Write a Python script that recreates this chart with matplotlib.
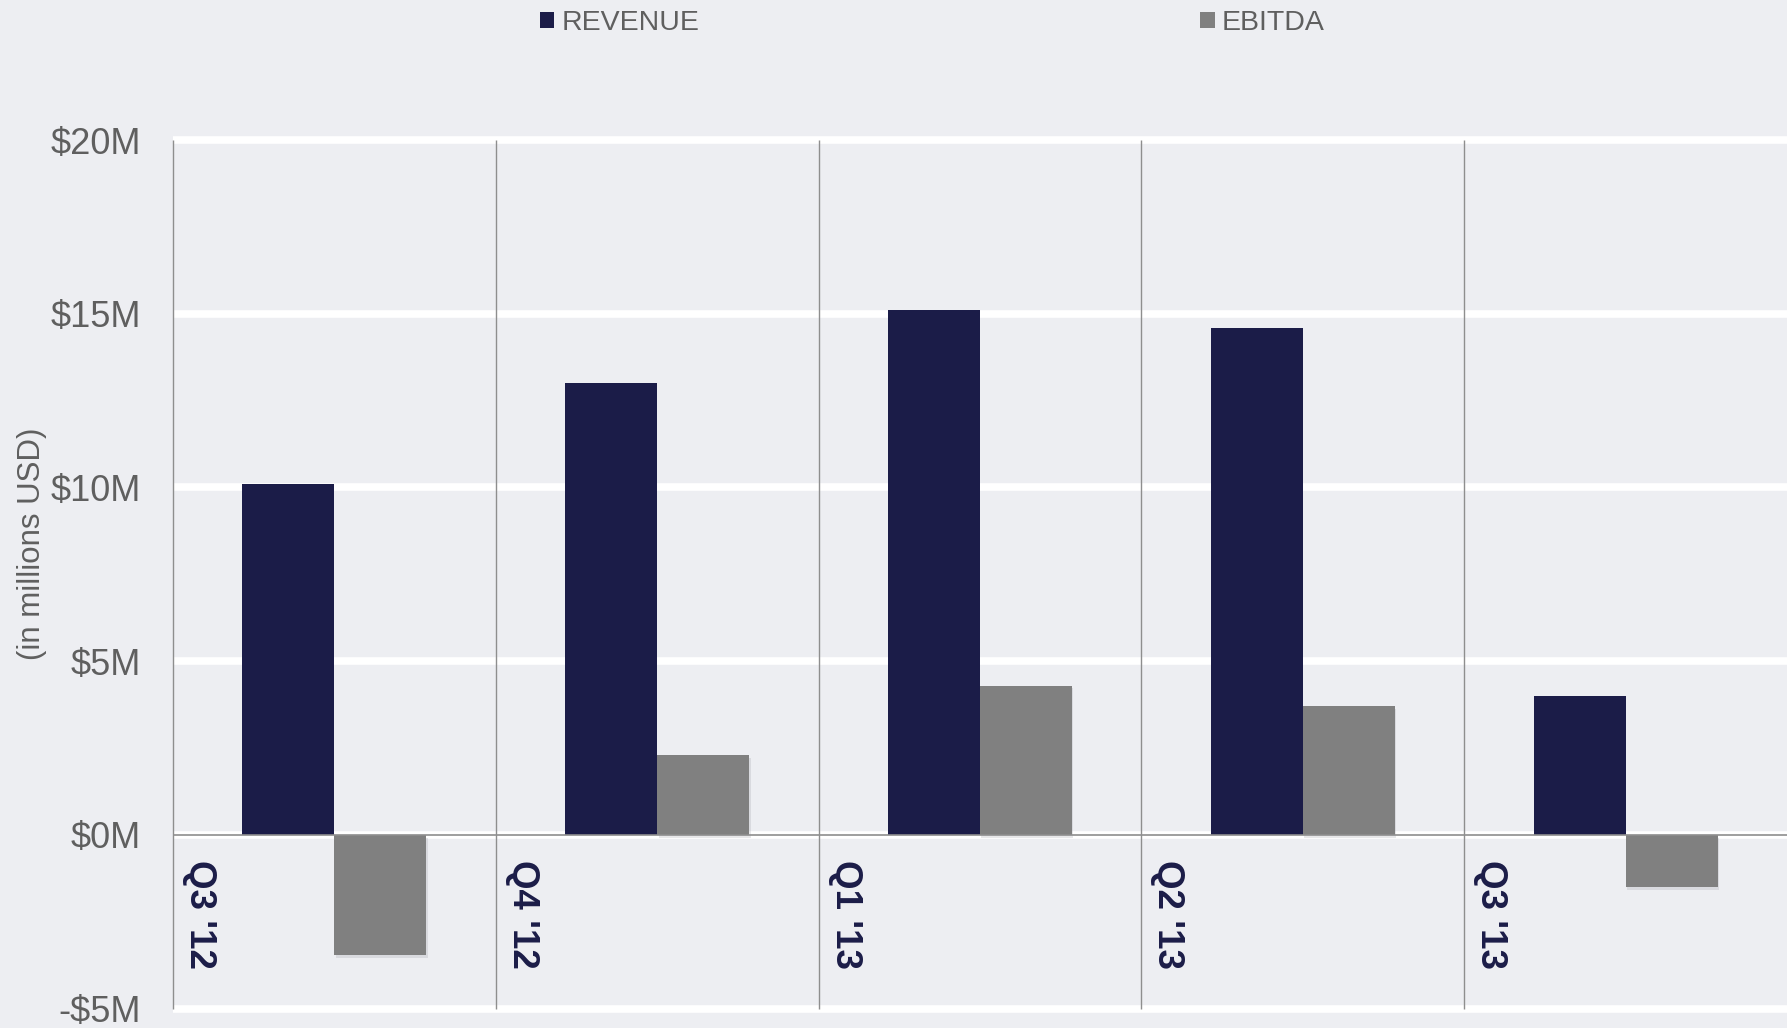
import matplotlib
matplotlib.use('Agg')
import matplotlib.pyplot as plt
import matplotlib.patheffects as pe
from matplotlib.patches import Patch
from matplotlib.transforms import offset_copy

# data (millions USD)
quarters = ["Q3 '12", "Q4 '12", "Q1 '13", "Q2 '13", "Q3 '13"]
revenue = [10.1, 13.0, 15.1, 14.6, 4.0]
ebitda = [-3.45, 2.3, 4.3, 3.7, -1.5]
y_ticks = [-5, 0, 5, 10, 15, 20]
y_tick_labels = ['-$5M', '$0M', '$5M', '$10M', '$15M', '$20M']

navy = '#1B1C48'
grey_bar = '#808080'
bg = '#EDEEF2'
line_grey = '#8E8E8E'
text_grey = '#5F5F5F'

plt.rcParams['font.family'] = ['Liberation Sans', 'DejaVu Sans']

fig = plt.figure(figsize=(17.87, 10.28), dpi=100, facecolor=bg)
ax = fig.add_axes([173 / 1787, 0.0138, 1 - 173 / 1787, 0.855])
ax.set_facecolor(bg)

x = list(range(len(quarters)))
w = 0.285
shadow = [pe.SimplePatchShadow(offset=(1, -2), shadow_rgbFace='#a0a0aa', alpha=0.25), pe.Normal()]
ax.bar([i - w for i in x], revenue, width=w, align='edge', color=navy, zorder=3)
ax.bar(x, ebitda, width=w, align='edge', color=grey_bar, zorder=3, path_effects=shadow)

ax.set_xlim(-0.5, len(quarters) - 0.5)
ax.set_ylim(-5.15, 20.15)

# white horizontal grid
for t in y_ticks:
    ax.axhline(t, color='white', lw=5.5, zorder=1)
# category separators
ax.vlines([i - 0.5 for i in x], -5, 20, color=line_grey, lw=1.0, zorder=2, clip_on=False)
ax.axhline(0, color=line_grey, lw=1.2, zorder=4)

for s in ax.spines.values():
    s.set_visible(False)
ax.set_xticks([])
ax.set_yticks(y_ticks)
ax.set_yticklabels(y_tick_labels, fontsize=26, color=text_grey)
ax.tick_params(axis='y', length=0, pad=23)

# quarter labels under the zero line
trans = offset_copy(ax.transData, fig=fig, x=9, y=-25, units='dots')
for i, q in zip(x, quarters):
    ax.text(i - 0.5, 0, q, rotation=270, ha='left', va='top', fontsize=26.5,
            fontweight='bold', color=navy, transform=trans, zorder=5)

fig.text(32 / 1787, 1 - 544 / 1028, '(in millions USD)', rotation=90, ha='center', va='center',
         fontsize=22.5, color=text_grey)

handles = [Patch(facecolor=navy, label='REVENUE'), Patch(facecolor=grey_bar, label='EBITDA')]
fig.legend(handles=handles, ncol=2, loc='center left', bbox_to_anchor=(540 / 1787, 1 - 23 / 1028),
           frameon=False, fontsize=20.5, labelcolor=text_grey, borderpad=0, borderaxespad=0,
           handlelength=0.5, handleheight=0.5, handletextpad=0.25, columnspacing=17.6)

plt.savefig('out.png', dpi=100, facecolor=bg)
